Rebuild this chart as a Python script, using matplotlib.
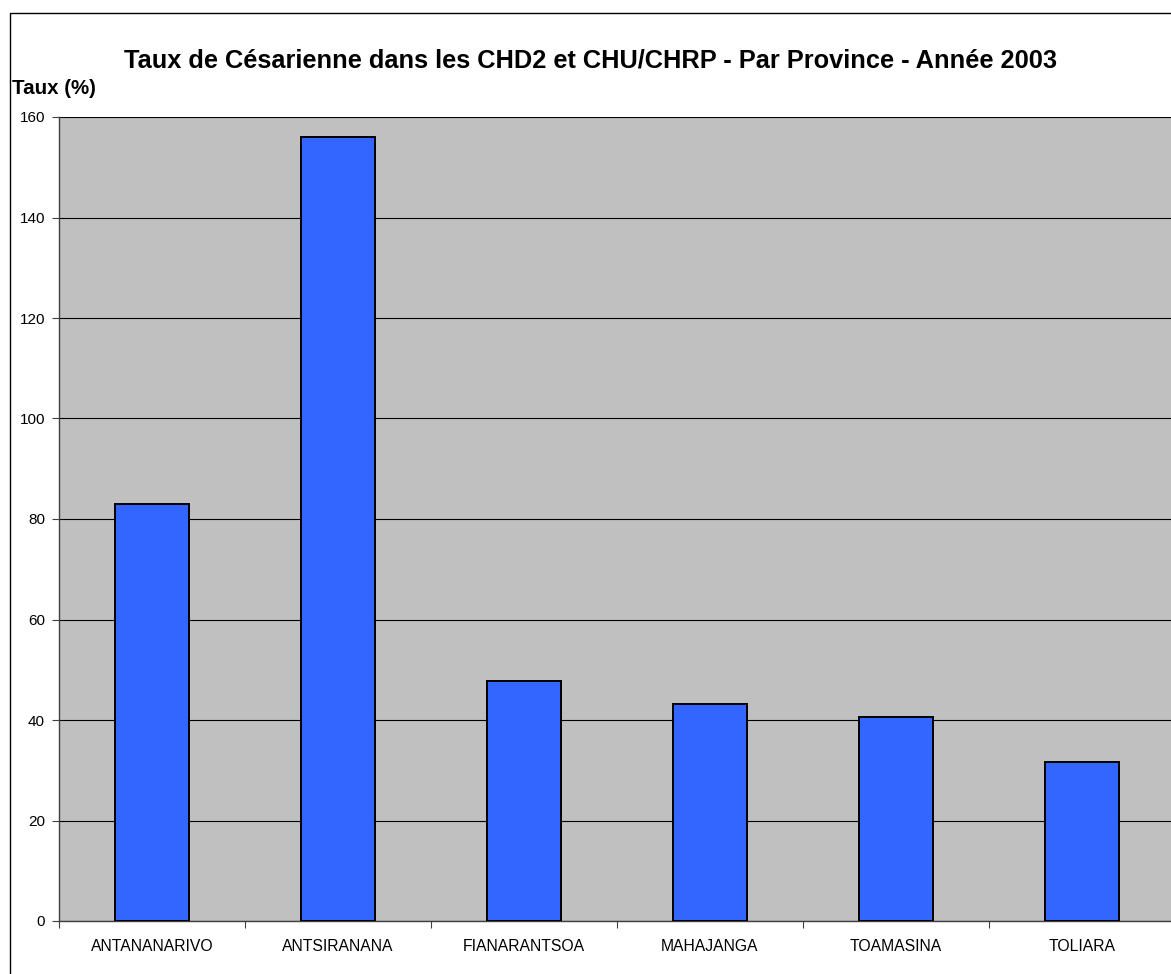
import matplotlib
matplotlib.use("Agg")
import matplotlib.pyplot as plt
from matplotlib.patches import Rectangle

# Taux de césarienne par province, 2003
provinces = ["ANTANANARIVO", "ANTSIRANANA", "FIANARANTSOA",
             "MAHAJANGA", "TOAMASINA", "TOLIARA"]
taux = [83.0, 156.0, 47.7, 43.2, 40.6, 31.7]
yticks = [0, 20, 40, 60, 80, 100, 120, 140, 160]

TITLE = "Taux de Césarienne dans les CHD2 et CHU/CHRP - Par Province - Année 2003"
YLABEL = "Taux (%)"

plt.rcParams["font.family"] = ["Liberation Sans", "DejaVu Sans"]

W, H = 1171, 974
fig = plt.figure(figsize=(W / 100, H / 100), dpi=100)
fig.patch.set_facecolor("white")

# outer chart frame (runs off the right and bottom of the picture)
fig.add_artist(Rectangle((10 / W, -0.1), 1.2, 1.1 - 13 / H,
                         transform=fig.transFigure, fill=False,
                         edgecolor="black", linewidth=1.0))

ax = fig.add_axes([59 / W, (H - 921) / H, 1116 / W, (921 - 117) / H])
ax.set_facecolor("#C0C0C0")

x = list(range(len(provinces)))
ax.bar(x, taux, width=0.40, color="#3366FF", edgecolor="black",
       linewidth=1.4, zorder=3)

ax.set_xlim(-0.5, len(provinces) - 0.5)
ax.set_ylim(0, 160)
ax.set_yticks(yticks)
ax.set_yticklabels([str(v) for v in yticks])
ax.yaxis.grid(True, color="black", linewidth=0.8, zorder=1)
ax.set_axisbelow(True)

ax.set_xticks(x)
ax.set_xticklabels(provinces)
ax.set_xticks([i - 0.5 for i in range(len(provinces) + 1)], minor=True)
ax.tick_params(axis="x", which="major", length=0, pad=13, labelsize=11.3)
ax.tick_params(axis="x", which="minor", length=5, width=0.8, color="#404040")
ax.tick_params(axis="y", length=5, width=0.8, color="#404040", pad=5,
               labelsize=11)

for side in ("top", "right"):
    ax.spines[side].set_visible(False)
for side in ("left", "bottom"):
    ax.spines[side].set_color("#404040")
    ax.spines[side].set_linewidth(1.0)

fig.text(590 / W, 1 - 61 / H, TITLE, ha="center", va="center",
         fontsize=18.3, fontweight="bold")
fig.text(12 / W, 1 - 88 / H, YLABEL, ha="left", va="center",
         fontsize=14.8, fontweight="bold")

fig.savefig("out.png", dpi=100)
